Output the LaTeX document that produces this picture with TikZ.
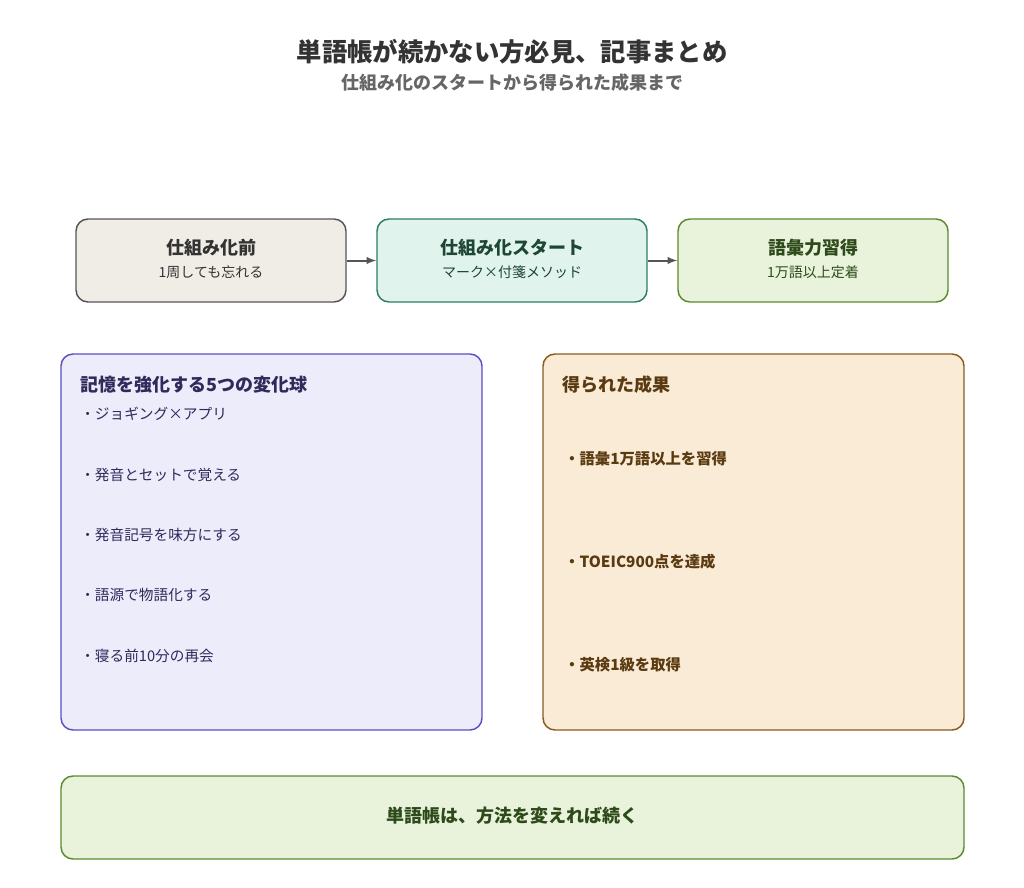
\documentclass[tikz,border=0pt]{standalone}
\usepackage{fontspec}
\setmainfont{Noto Sans CJK JP}
\usetikzlibrary{arrows}

\definecolor{titlegray}{RGB}{51,51,51}
\definecolor{subgray}{RGB}{102,102,102}
\definecolor{prefill}{RGB}{240,237,230}
\definecolor{predraw}{RGB}{85,85,85}
\definecolor{startfill}{RGB}{224,244,237}
\definecolor{startdraw}{RGB}{46,125,91}
\definecolor{starttext}{RGB}{30,70,52}
\definecolor{goalfill}{RGB}{233,243,220}
\definecolor{goaldraw}{RGB}{92,138,46}
\definecolor{goaltext}{RGB}{46,74,26}
\definecolor{tipfill}{RGB}{236,236,251}
\definecolor{tipdraw}{RGB}{90,79,196}
\definecolor{tiptext}{RGB}{46,42,90}
\definecolor{gainfill}{RGB}{250,235,215}
\definecolor{gaindraw}{RGB}{139,90,31}
\definecolor{gaintext}{RGB}{90,58,16}

\tikzset{
  card/.style={draw, rounded corners=9pt, line width=1.1pt, inner sep=0pt},
  flowcard/.style={card, minimum width=202.5pt, minimum height=62.25pt},
  bigcard/.style={card, minimum width=315.75pt, minimum height=282pt},
  cardhead/.style={font=\bfseries\fontsize{13.5}{16}\selectfont, inner sep=0.75pt},
  cardsub/.style={font=\fontsize{10.5}{13}\selectfont, inner sep=0.75pt},
  tipitem/.style={anchor=west, font=\fontsize{11}{13}\selectfont, text=tiptext, inner sep=0.75pt},
  gainitem/.style={anchor=west, font=\bfseries\fontsize{11.5}{14}\selectfont, text=gaintext, inner sep=0.75pt},
  flowline/.style={draw=predraw, line width=1.5pt, -latex}
}

\begin{document}
\begin{tikzpicture}[x=0.75pt,y=0.75pt,yscale=-1,xscale=1]
\useasboundingbox (0,0) rectangle (1024,888);

% Title
\node (title) at (512,52) [text=titlegray, font=\bfseries\fontsize{19}{22}\selectfont] {単語帳が続かない方必見、記事まとめ};
\node (subtitle) at (512,83) [text=subgray, font=\bfseries\fontsize{13.5}{16}\selectfont] {仕組み化のスタートから得られた成果まで};

% Flow boxes
\node (pre) at (211,260.5) [flowcard, draw=predraw, fill=prefill] {};
\node (start) at (512,260.5) [flowcard, draw=startdraw, fill=startfill] {};
\node (goal) at (813,260.5) [flowcard, draw=goaldraw, fill=goalfill] {};

\node (prehead) at (211,248) [cardhead, text=titlegray] {仕組み化前};
\node (presub) at (211,272) [cardsub, text=titlegray] {1周しても忘れる};
\node (starthead) at (512,248) [cardhead, text=starttext] {仕組み化スタート};
\node (startsub) at (512,272) [cardsub, text=starttext] {マーク×付箋メソッド};
\node (goalhead) at (813,248) [cardhead, text=goaltext] {語彙力習得};
\node (goalsub) at (813,272) [cardsub, text=goaltext] {1万語以上定着};

% Arrows
\draw [flowline] (pre) -- (start);
\draw [flowline] (start) -- (goal);

% Left panel
\node (tips) at (271.5,542) [bigcard, draw=tipdraw, fill=tipfill] {};
\node (tipshead) at (79,385) [cardhead, anchor=west, text=tiptext] {記憶を強化する5つの変化球};
\node (tip1) at (79,414) [tipitem] {・ジョギング×アプリ};
\node (tip2) at (79,475) [tipitem] {・発音とセットで覚える};
\node (tip3) at (79,535) [tipitem] {・発音記号を味方にする};
\node (tip4) at (79,595) [tipitem] {・語源で物語化する};
\node (tip5) at (79,656) [tipitem] {・寝る前10分の再会};

% Right panel
\node (gains) at (753.5,542) [bigcard, draw=gaindraw, fill=gainfill] {};
\node (gainshead) at (561,385) [cardhead, anchor=west, text=gaintext] {得られた成果};
\node (gain1) at (563,459) [gainitem] {・語彙1万語以上を習得};
\node (gain2) at (563,562) [gainitem] {・TOEIC900点を達成};
\node (gain3) at (563,665) [gainitem] {・英検1級を取得};

% Bottom line
\node (wrapup) at (512.5,817.5) [card, draw=goaldraw, fill=goalfill, minimum width=677.25pt, minimum height=62.25pt] {};
\node (wrapuptext) at (512.5,816) [cardhead, text=goaltext] {単語帳は、方法を変えれば続く};

\end{tikzpicture}
\end{document}
